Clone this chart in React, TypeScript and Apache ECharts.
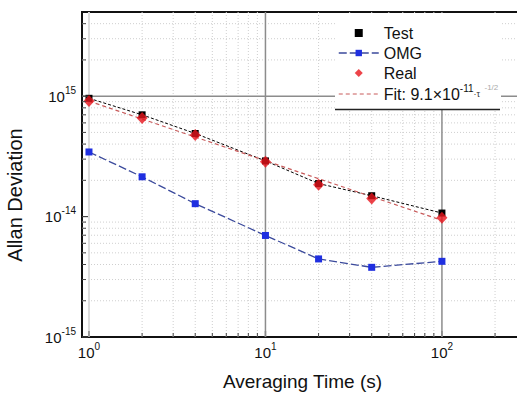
import React, { useEffect, useRef } from 'react';
import * as echarts from 'echarts';

// ---- data ----
const tau = [1, 2, 4, 10, 20, 40, 100];
const testDev = [9.6e-14, 7.0e-14, 4.9e-14, 2.9e-14, 1.88e-14, 1.49e-14, 1.07e-14];
const omgDev = [3.44e-14, 2.14e-14, 1.28e-14, 6.97e-15, 4.45e-15, 3.79e-15, 4.25e-15];
const realDev = [9.1e-14, 6.6e-14, 4.76e-14, 2.85e-14, 1.84e-14, 1.41e-14, 9.8e-15];
const fitTau = [1, 100];
const fitDev = [9.1e-14, 9.3e-15];

// ---- axis ticks / labels ----
const xTickValues = [1, 10, 100];
const xTickSup = ['0', '1', '2'];
const yTickValues = [1e-15, 1e-14, 1e-13];
const yTickSup = ['-15', '-14', '15'];
const xMinorValues = [2, 3, 4, 5, 6, 7, 8, 9, 20, 30, 40, 50, 60, 70, 80, 90, 200];
const yMinorValues = [
  2e-15, 3e-15, 4e-15, 5e-15, 6e-15, 7e-15, 8e-15, 9e-15,
  2e-14, 3e-14, 4e-14, 5e-14, 6e-14, 7e-14, 8e-14, 9e-14,
  2e-13, 3e-13, 4e-13,
];
const xMajorLines = [10, 100];
const xLightLines = [1];
const yMajorLines = [1e-13];

const X_MIN = 0.913;
const X_MAX = 288;
const Y_MIN = 1e-15;
const Y_MAX = 5e-13;

const FONT = '"Liberation Sans", Arial, Helvetica, sans-serif';

function matchIdx(list: number[], v: number) {
  for (let i = 0; i < list.length; i++) {
    if (Math.abs(Math.log10(v) - Math.log10(list[i])) < 1e-6) return i;
  }
  return -1;
}

function vLineSeries(values: number[], style: any, z: number) {
  return {
    type: 'custom', silent: true, z, coordinateSystem: 'cartesian2d',
    data: values.map((v) => [v, Y_MIN]), encode: { x: 0, y: 1 },
    renderItem: (_p: any, api: any) => {
      const v = api.value(0);
      const a = api.coord([v, Y_MIN]);
      const b = api.coord([v, Y_MAX]);
      return { type: 'line', shape: { x1: a[0], y1: a[1], x2: b[0], y2: b[1] }, style };
    },
  };
}
function hLineSeries(values: number[], style: any, z: number) {
  return {
    type: 'custom', silent: true, z, coordinateSystem: 'cartesian2d',
    data: values.map((v) => [X_MIN, v]), encode: { x: 0, y: 1 },
    renderItem: (_p: any, api: any) => {
      const v = api.value(1);
      const a = api.coord([X_MIN, v]);
      const b = api.coord([X_MAX, v]);
      return { type: 'line', shape: { x1: a[0], y1: a[1], x2: b[0], y2: b[1] }, style };
    },
  };
}
function xTickSeries(values: number[], len: number, style: any) {
  return {
    type: 'custom', silent: true, z: 6, coordinateSystem: 'cartesian2d',
    data: values.map((v) => [v, Y_MIN]), encode: { x: 0, y: 1 },
    renderItem: (_p: any, api: any) => {
      const a = api.coord([api.value(0), Y_MIN]);
      return { type: 'line', shape: { x1: a[0], y1: a[1], x2: a[0], y2: a[1] - len }, style };
    },
  };
}
function yTickSeries(values: number[], len: number, style: any) {
  return {
    type: 'custom', silent: true, z: 6, coordinateSystem: 'cartesian2d',
    data: values.map((v) => [X_MIN, v]), encode: { x: 0, y: 1 },
    renderItem: (_p: any, api: any) => {
      const a = api.coord([X_MIN, api.value(1)]);
      return { type: 'line', shape: { x1: a[0], y1: a[1], x2: a[0] + len, y2: a[1] }, style };
    },
  };
}

const supRich = {
  b: { fontSize: 15, lineHeight: 22, color: '#111', fontFamily: FONT },
  s: { fontSize: 10, lineHeight: 12, verticalAlign: 'top', color: '#111', fontFamily: FONT },
};

const CHART_W = 560;

export default function App() {
  const ref = useRef<HTMLDivElement>(null);
  useEffect(() => {
    if (!ref.current) return;
    const chart = echarts.init(ref.current, undefined, { renderer: 'svg' });
    const dotted = { stroke: '#cfcfcf', lineWidth: 1, lineDash: [1, 2] };
    const option: any = {
      animation: false,
      backgroundColor: '#fff',
      grid: {
        left: 82, top: 12, bottom: 57, right: CHART_W - 523,
        show: true, borderColor: '#111', borderWidth: 2, backgroundColor: 'transparent',
      },
      xAxis: {
        type: 'log', logBase: 10, min: X_MIN, max: X_MAX,
        axisLine: { show: false }, axisTick: { show: false }, splitLine: { show: false },
        axisLabel: {
          margin: 4,
          formatter: (v: number) => {
            const i = matchIdx(xTickValues, v);
            return i < 0 ? '' : `{b|10}{s|${xTickSup[i]}}`;
          },
          rich: supRich,
        },
        name: 'Averaging Time (s)', nameLocation: 'middle', nameGap: 35,
        nameTextStyle: { fontSize: 19, fontFamily: FONT, color: '#111' },
      },
      yAxis: {
        type: 'log', logBase: 10, min: Y_MIN, max: Y_MAX,
        axisLine: { show: false }, axisTick: { show: false }, splitLine: { show: false },
        axisLabel: {
          margin: 6,
          formatter: (v: number) => {
            const i = matchIdx(yTickValues, v);
            return i < 0 ? '' : `{b|10}{s|${yTickSup[i]}}`;
          },
          rich: supRich,
        },
      },
      legend: {
        orient: 'vertical', left: 338, top: 23, padding: 0, itemGap: 0,
        itemWidth: 40, itemHeight: 8, selectedMode: false, z: 10, symbolKeepAspect: true,
        textStyle: {
          fontFamily: FONT, fontSize: 16, color: '#111', lineHeight: 20,
          rich: {
            b: { fontSize: 16, lineHeight: 22, color: '#111', fontFamily: FONT },
            s: { fontSize: 10, lineHeight: 12, verticalAlign: 'top', color: '#111', fontFamily: FONT },
            m: { fontSize: 9, lineHeight: 22, color: '#333', fontFamily: FONT },
            f: { fontSize: 8, lineHeight: 12, verticalAlign: 'top', color: '#aaa', fontFamily: FONT },
          },
        },
        formatter: (name: string) =>
          name === 'Fit' ? '{b|Fit: 9.1×10}{s|-11}{m|·τ}{f|  -1/2}' : name,
        data: [
          { name: 'Test', icon: 'path://M0,0H10V10H0Z', symbolKeepAspect: true },
          { name: 'OMG', lineStyle: { width: 1.5 } },
          { name: 'Real', icon: 'path://M5,0L10,5L5,10L0,5Z', symbolKeepAspect: true },
          { name: 'Fit', itemStyle: { opacity: 0 }, lineStyle: { width: 1 } },
        ],
      },
      graphic: [
        {
          type: 'rect', z: 3, silent: true,
          shape: { x: 335, y: 13, width: 166, height: 96 },
          style: { fill: '#fff' },
        },
        {
          type: 'line', z: 3, silent: true,
          shape: { x1: 335, y1: 109.5, x2: 500, y2: 109.5 },
          style: { stroke: '#222', lineWidth: 1.5 },
        },
        {
          type: 'text', x: 15, y: 195, rotation: Math.PI / 2, z: 5,
          style: {
            text: 'Allan Deviation', fontSize: 20, fontFamily: FONT, fill: '#111',
            align: 'center', verticalAlign: 'middle', textAlign: 'center', textVerticalAlign: 'middle',
          },
        },
      ],
      series: [
        vLineSeries(xMinorValues, dotted, 1),
        hLineSeries(yMinorValues, dotted, 1),
        vLineSeries(xLightLines, { stroke: '#dcdcdc', lineWidth: 2 }, 1),
        vLineSeries(xMajorLines, { stroke: '#8c8c8c', lineWidth: 1.5 }, 1),
        hLineSeries(yMajorLines, { stroke: '#8c8c8c', lineWidth: 1.5 }, 1),
        xTickSeries(xMinorValues, 4, { stroke: '#444', lineWidth: 1 }),
        xTickSeries(xTickValues, 6, { stroke: '#888', lineWidth: 1.5 }),
        yTickSeries(yMinorValues, 4, { stroke: '#444', lineWidth: 1 }),
        yTickSeries(yTickValues, 6, { stroke: '#444', lineWidth: 1.2 }),
        {
          name: 'Test', type: 'line', z: 4,
          data: tau.map((t, i) => [t, testDev[i]]),
          symbol: 'rect', symbolSize: 7,
          itemStyle: { color: '#000' },
          lineStyle: { color: '#000', width: 1, type: [3, 2] },
        },
        {
          name: 'OMG', type: 'line', z: 4,
          data: tau.map((t, i) => [t, omgDev[i]]),
          symbol: 'rect', symbolSize: 7,
          itemStyle: { color: '#1f2fe0' },
          lineStyle: { color: '#3b4a9c', width: 1.3, type: [8, 3] },
        },
        {
          name: 'Fit', type: 'line', z: 4,
          data: fitTau.map((t, i) => [t, fitDev[i]]),
          symbol: 'none',
          itemStyle: { color: '#c85a5a' },
          lineStyle: { color: '#c85a5a', width: 1.2, type: [4, 3] },
        },
        {
          name: 'Real', type: 'scatter', z: 5,
          data: tau.map((t, i) => [t, realDev[i]]),
          symbol: 'diamond', symbolSize: [11, 12],
          itemStyle: { color: '#e8141c' },
        },
      ],
    };
    chart.setOption(option);
    return () => chart.dispose();
  }, []);
  return (
    <div style={{ position: 'fixed', left: 0, top: 0, width: 517, height: 396, overflow: 'hidden', background: '#fff' }}>
      <div ref={ref} style={{ width: CHART_W, height: 396 }} />
    </div>
  );
}
